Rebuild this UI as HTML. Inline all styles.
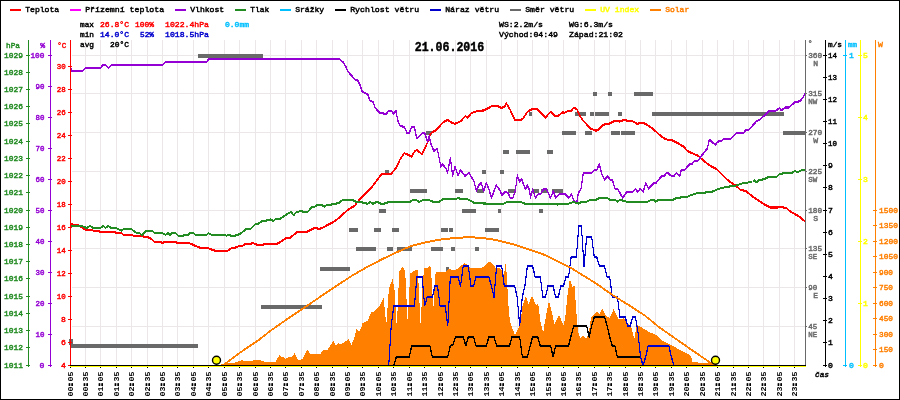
<!DOCTYPE html>
<html><head><meta charset="utf-8"><title>chart</title>
<style>
html,body{margin:0;padding:0;background:#fff;}
body{width:900px;height:400px;overflow:hidden;}
svg{display:block;will-change:transform;}
text{font-family:"Liberation Mono",monospace;font-size:8.1px;stroke-width:0.45px;paint-order:stroke;}
.b{font-weight:bold;}
.t{font-family:"Liberation Mono",monospace;font-weight:bold;font-size:12.6px;}
.c{shape-rendering:crispEdges;}
</style></head><body>
<svg width="900" height="400" viewBox="0 0 900 400">
<rect x="0" y="0" width="900" height="400" fill="#fff"/>
<path class="c" d="M85.5 40V365M100.5 40V365M116.5 40V365M131.5 40V365M147.5 40V365M162.5 40V365M177.5 40V365M193.5 40V365M208.5 40V365M224.5 40V365M239.5 40V365M255.5 40V365M270.5 40V365M285.5 40V365M301.5 40V365M316.5 40V365M332.5 40V365M347.5 40V365M362.5 40V365M378.5 40V365M393.5 40V365M409.5 40V365M424.5 40V365M440.5 40V365M455.5 40V365M470.5 40V365M486.5 40V365M501.5 40V365M517.5 40V365M532.5 40V365M548.5 40V365M563.5 40V365M578.5 40V365M594.5 40V365M609.5 40V365M625.5 40V365M640.5 40V365M655.5 40V365M671.5 40V365M686.5 40V365M702.5 40V365M717.5 40V365M733.5 40V365M748.5 40V365M763.5 40V365M779.5 40V365M794.5 40V365M72 55.5H805M72 93.5H805M72 132.5H805M72 171.5H805M72 210.5H805M72 248.5H805M72 287.5H805M72 326.5H805" stroke="#ebe6e7" stroke-width="1" fill="none"/>
<path class="c" d="M198 54H263V58H198ZM71 344H198V348H71ZM261 305H322V309H261ZM320 267H350V271H320ZM446 267H449V271H446ZM349 228H358V232H349ZM374 228H381V232H374ZM392 228H399V232H392ZM441 228H448V232H441ZM449 228H453V232H449ZM485 228H499V232H485ZM356 247H376V251H356ZM387 247H393V251H387ZM397 247H412V251H397ZM431 247H443V251H431ZM451 247H455V251H451ZM475 247H479V251H475ZM379 209H386V213H379ZM462 209H476V213H462ZM498 209H501V213H498ZM539 209H543V213H539ZM410 189H427V193H410ZM455 189H463V193H455ZM477 189H484V193H477ZM508 189H516V193H508ZM532 189H539V193H532ZM541 189H548V193H541ZM552 189H563V193H552ZM385 170H389V174H385ZM482 170H486V174H482ZM500 170H504V174H500ZM503 150H509V154H503ZM516 150H530V154H516ZM547 150H553V154H547ZM426 131H432V135H426ZM562 131H576V135H562ZM585 131H592V135H585ZM611 131H620V135H611ZM621 131H635V135H621ZM783 131H805V135H783ZM529 112H532V116H529ZM575 112H586V116H575ZM590 112H594V116H590ZM595 112H609V116H595ZM618 112H622V116H618ZM652 112H784V116H652ZM593 92H597V96H593ZM608 92H612V96H608ZM634 92H653V96H634ZM69 339H73V345H69Z" fill="#696969"/>
<path shape-rendering="crispEdges" d="M218.0 365.0L220.9 364.5L228.4 363.3L236.8 362.3L241.0 360.3L243.5 360.6L248.5 361.1L257.7 359.9L261.0 360.3L265.2 362.0L275.3 362.0L279.5 355.3L281.1 356.9L283.6 356.6L285.7 358.9L288.7 356.9L292.0 356.9L294.5 353.2L297.9 359.9L302.1 359.4L307.4 349.4L310.4 354.4L312.4 353.6L320.5 353.6L323.0 350.2L327.2 350.2L333.4 341.0L335.5 345.2L338.6 343.2L340.6 344.4L348.6 339.3L351.4 345.2L354.0 338.5L356.5 329.3L359.0 331.8L360.9 328.5L362.5 323.4L367.6 320.9L370.9 312.6L375.1 310.9L380.1 305.0L383.6 297.7L386.3 325.5L388.9 288.5L392.7 278.4L394.6 291.0L396.8 328.0L399.2 271.7L402.7 266.4L405.2 271.7L407.7 323.0L410.2 273.4L415.3 270.4L417.9 270.4L420.6 324.6L423.0 279.0L424.5 268.4L427.0 268.0L430.3 265.4L431.1 271.7L433.4 308.0L435.7 271.7L446.2 271.7L448.8 269.2L455.5 270.1L464.7 263.0L470.5 267.6L482.2 267.6L489.8 261.4L494.0 265.0L495.0 267.6L500.0 268.4L502.5 271.7L504.0 275.0L505.9 261.4L507.0 280.0L508.4 305.2L510.0 322.0L514.3 333.5L515.1 334.3L520.1 325.1L522.6 305.2L526.0 296.0L528.5 303.6L532.2 296.0L536.0 305.2L538.2 303.6L540.5 322.0L543.2 332.6L544.9 322.0L548.9 301.0L551.9 311.9L554.4 324.3L559.0 315.1L563.6 325.1L565.3 316.7L567.3 296.9L569.8 278.4L572.3 286.8L574.5 286.0L576.2 310.2L577.9 331.8L580.4 338.5L582.9 336.0L586.2 338.5L588.8 332.6L590.4 321.8L591.3 317.6L597.1 311.7L599.6 314.2L602.1 308.4L605.5 315.1L609.7 318.4L613.5 309.2L615.9 313.4L618.9 319.3L623.9 318.4L628.1 323.4L631.6 328.5L634.3 339.5L636.4 326.0L637.7 325.1L643.5 328.5L650.2 332.6L655.2 334.3L662.8 341.0L670.3 344.4L678.7 349.4L687.1 353.6L691.2 356.1L692.4 361.9L700.5 362.8L710.5 363.3L717.2 364.5L718.0 365.0Z" fill="#ff7f00" stroke="none"/>
<g shape-rendering="crispEdges" fill="none" stroke="#ff0000" stroke-width="1.15" stroke-linejoin="round"><path d="M70.0 223.8L73.3 224.8L79.2 225.6L82.6 228.0L85.9 229.8L91.8 229.8L93.4 230.7L98.5 230.7L100.1 231.8L114.4 231.8L116.0 233.0L121.1 233.0L123.6 234.8L131.9 234.8L133.6 236.0L142.8 236.0L144.5 237.2L147.9 237.2L152.0 239.4L154.5 241.9L160.4 241.9L162.1 243.0L165.4 241.9L175.5 241.9L177.1 243.0L188.9 243.0L193.9 245.2L200.6 248.1L208.1 248.1L212.3 249.9L215.7 250.8L227.6 250.8L231.7 248.2L235.9 247.4L240.1 245.7L242.6 245.7L245.1 243.9L250.2 243.9L252.7 243.0L256.9 244.7L262.7 244.7L265.2 243.9L276.9 243.9L282.0 241.0L286.2 238.0L290.3 237.7L297.0 232.2L307.1 231.8L314.6 228.0L316.3 228.0L318.8 229.0L322.1 228.0L332.2 222.6L337.2 219.3L343.9 213.4L347.5 210.0L355.0 205.5L359.0 200.0L363.8 195.0L372.5 186.3L381.3 174.5L385.0 173.8L391.3 173.8L396.7 167.0L400.1 159.4L404.3 153.2L407.6 154.4L411.5 156.9L414.3 151.9L416.8 149.7L421.9 154.4L425.2 147.7L428.6 140.2L430.2 134.3L432.7 131.8L436.1 130.1L442.8 122.6L447.8 119.8L451.2 122.3L454.8 123.9L460.4 121.4L465.4 116.2L467.9 117.6L471.2 113.1L476.3 111.4L483.8 110.4L491.3 106.4L497.2 105.9L501.4 108.0L504.7 106.4L506.4 103.3L509.8 109.2L514.8 119.8L520.6 119.8L522.5 119.3L527.5 111.8L532.6 108.8L536.7 108.8L540.9 112.6L545.4 117.6L550.5 111.8L555.2 116.0L558.2 116.0L562.7 112.1L563.9 112.9L568.6 110.9L571.1 110.9L573.9 107.6L576.9 109.3L579.4 115.1L582.8 120.1L590.3 128.5L596.2 130.7L598.7 129.3L602.9 124.8L609.6 123.5L614.6 121.0L619.6 121.5L625.1 119.8L628.0 121.5L630.5 120.6L633.8 121.8L637.2 124.0L640.5 123.0L644.7 123.5L652.3 128.2L659.0 134.4L664.0 138.2L667.3 139.7L673.0 140.5L683.8 146.7L687.2 150.9L698.1 155.9L700.0 157.5L708.8 165.0L716.3 168.8L727.5 180.0L737.5 187.0L740.0 189.5L746.3 191.3L753.8 197.5L761.3 202.5L770.0 207.5L777.5 207.5L779.5 206.8L786.3 208.0L790.0 211.3L800.0 217.0L805.5 222.0" transform="translate(0 -0.5)"/><path d="M70.0 223.8L73.3 224.8L79.2 225.6L82.6 228.0L85.9 229.8L91.8 229.8L93.4 230.7L98.5 230.7L100.1 231.8L114.4 231.8L116.0 233.0L121.1 233.0L123.6 234.8L131.9 234.8L133.6 236.0L142.8 236.0L144.5 237.2L147.9 237.2L152.0 239.4L154.5 241.9L160.4 241.9L162.1 243.0L165.4 241.9L175.5 241.9L177.1 243.0L188.9 243.0L193.9 245.2L200.6 248.1L208.1 248.1L212.3 249.9L215.7 250.8L227.6 250.8L231.7 248.2L235.9 247.4L240.1 245.7L242.6 245.7L245.1 243.9L250.2 243.9L252.7 243.0L256.9 244.7L262.7 244.7L265.2 243.9L276.9 243.9L282.0 241.0L286.2 238.0L290.3 237.7L297.0 232.2L307.1 231.8L314.6 228.0L316.3 228.0L318.8 229.0L322.1 228.0L332.2 222.6L337.2 219.3L343.9 213.4L347.5 210.0L355.0 205.5L359.0 200.0L363.8 195.0L372.5 186.3L381.3 174.5L385.0 173.8L391.3 173.8L396.7 167.0L400.1 159.4L404.3 153.2L407.6 154.4L411.5 156.9L414.3 151.9L416.8 149.7L421.9 154.4L425.2 147.7L428.6 140.2L430.2 134.3L432.7 131.8L436.1 130.1L442.8 122.6L447.8 119.8L451.2 122.3L454.8 123.9L460.4 121.4L465.4 116.2L467.9 117.6L471.2 113.1L476.3 111.4L483.8 110.4L491.3 106.4L497.2 105.9L501.4 108.0L504.7 106.4L506.4 103.3L509.8 109.2L514.8 119.8L520.6 119.8L522.5 119.3L527.5 111.8L532.6 108.8L536.7 108.8L540.9 112.6L545.4 117.6L550.5 111.8L555.2 116.0L558.2 116.0L562.7 112.1L563.9 112.9L568.6 110.9L571.1 110.9L573.9 107.6L576.9 109.3L579.4 115.1L582.8 120.1L590.3 128.5L596.2 130.7L598.7 129.3L602.9 124.8L609.6 123.5L614.6 121.0L619.6 121.5L625.1 119.8L628.0 121.5L630.5 120.6L633.8 121.8L637.2 124.0L640.5 123.0L644.7 123.5L652.3 128.2L659.0 134.4L664.0 138.2L667.3 139.7L673.0 140.5L683.8 146.7L687.2 150.9L698.1 155.9L700.0 157.5L708.8 165.0L716.3 168.8L727.5 180.0L737.5 187.0L740.0 189.5L746.3 191.3L753.8 197.5L761.3 202.5L770.0 207.5L777.5 207.5L779.5 206.8L786.3 208.0L790.0 211.3L800.0 217.0L805.5 222.0" transform="translate(0 0.5)"/></g>
<g shape-rendering="crispEdges" fill="none" stroke="#9400d3" stroke-width="1.08" stroke-linejoin="round"><path d="M70.3 67.0L72.0 71.0L82.5 71.0L85.5 68.0L100.5 68.0L103.0 65.0L105.5 65.0L108.5 68.0L111.5 65.0L162.5 65.0L165.8 62.0L206.7 62.0L208.7 58.9L339.2 58.9L343.3 62.5L345.8 66.7L347.5 70.8L351.7 75.8L355.0 79.7L357.5 80.0L360.0 85.0L362.2 91.7L365.0 92.8L368.0 95.0L370.0 100.8L373.0 102.0L375.0 107.5L380.0 113.3L386.7 113.7L388.4 110.9L391.4 110.9L393.7 113.7L396.2 110.9L397.6 120.1L400.1 126.0L404.3 126.8L406.8 132.6L409.3 132.6L411.8 126.8L414.3 126.8L416.8 138.5L422.7 133.0L424.9 133.5L427.7 141.9L429.1 136.0L431.1 144.4L433.9 151.1L437.3 148.6L439.2 158.4L440.9 166.8L442.6 164.3L445.9 168.5L447.6 172.6L450.4 157.6L452.6 176.0L455.1 166.8L458.1 175.5L460.5 170.1L465.2 176.0L468.8 172.6L473.9 181.0L476.5 191.1L478.6 185.2L481.1 182.7L483.6 191.1L486.4 182.7L488.9 189.4L491.6 197.8L496.1 185.2L499.5 189.4L502.0 195.2L505.3 191.9L507.9 192.7L510.4 198.3L512.9 197.8L515.4 190.2L517.4 175.5L519.6 181.9L521.7 179.3L525.4 189.4L527.1 185.2L529.6 190.2L530.5 197.8L532.5 189.4L535.5 197.8L538.0 194.4L540.5 194.4L543.8 188.6L546.4 189.4L550.5 197.8L553.4 191.1L555.6 197.8L558.9 194.4L565.6 194.4L569.0 197.8L571.5 194.4L574.3 201.9L576.7 202.8L578.4 192.7L580.9 189.4L583.4 172.6L591.8 172.6L595.1 169.8L596.8 169.8L599.3 164.3L601.8 174.3L604.7 179.8L607.7 176.0L610.2 179.7L612.4 179.7L614.9 188.6L617.7 188.9L622.7 197.8L626.9 191.9L632.8 191.9L635.6 188.9L637.8 191.9L640.3 188.9L643.2 191.9L645.7 183.2L648.7 188.6L653.7 183.2L656.2 182.7L661.7 176.0L663.8 176.0L667.1 172.6L671.8 176.0L673.8 176.0L676.6 173.0L679.7 176.0L681.3 170.1L684.7 169.8L689.7 164.3L691.9 163.9L694.7 160.9L698.1 160.6L702.3 154.7L707.3 148.5L709.3 140.0L710.6 140.6L715.2 144.7L718.0 141.5L721.3 141.3L723.0 139.3L730.0 139.3L736.3 133.0L743.8 133.0L745.5 130.5L748.8 130.0L756.3 121.3L760.0 119.5L768.8 111.3L776.3 110.5L779.5 108.0L781.3 110.5L785.0 107.5L788.8 107.5L795.0 102.0L800.0 101.3L803.8 96.3L805.5 92.5" transform="translate(0 -0.5)"/><path d="M70.3 67.0L72.0 71.0L82.5 71.0L85.5 68.0L100.5 68.0L103.0 65.0L105.5 65.0L108.5 68.0L111.5 65.0L162.5 65.0L165.8 62.0L206.7 62.0L208.7 58.9L339.2 58.9L343.3 62.5L345.8 66.7L347.5 70.8L351.7 75.8L355.0 79.7L357.5 80.0L360.0 85.0L362.2 91.7L365.0 92.8L368.0 95.0L370.0 100.8L373.0 102.0L375.0 107.5L380.0 113.3L386.7 113.7L388.4 110.9L391.4 110.9L393.7 113.7L396.2 110.9L397.6 120.1L400.1 126.0L404.3 126.8L406.8 132.6L409.3 132.6L411.8 126.8L414.3 126.8L416.8 138.5L422.7 133.0L424.9 133.5L427.7 141.9L429.1 136.0L431.1 144.4L433.9 151.1L437.3 148.6L439.2 158.4L440.9 166.8L442.6 164.3L445.9 168.5L447.6 172.6L450.4 157.6L452.6 176.0L455.1 166.8L458.1 175.5L460.5 170.1L465.2 176.0L468.8 172.6L473.9 181.0L476.5 191.1L478.6 185.2L481.1 182.7L483.6 191.1L486.4 182.7L488.9 189.4L491.6 197.8L496.1 185.2L499.5 189.4L502.0 195.2L505.3 191.9L507.9 192.7L510.4 198.3L512.9 197.8L515.4 190.2L517.4 175.5L519.6 181.9L521.7 179.3L525.4 189.4L527.1 185.2L529.6 190.2L530.5 197.8L532.5 189.4L535.5 197.8L538.0 194.4L540.5 194.4L543.8 188.6L546.4 189.4L550.5 197.8L553.4 191.1L555.6 197.8L558.9 194.4L565.6 194.4L569.0 197.8L571.5 194.4L574.3 201.9L576.7 202.8L578.4 192.7L580.9 189.4L583.4 172.6L591.8 172.6L595.1 169.8L596.8 169.8L599.3 164.3L601.8 174.3L604.7 179.8L607.7 176.0L610.2 179.7L612.4 179.7L614.9 188.6L617.7 188.9L622.7 197.8L626.9 191.9L632.8 191.9L635.6 188.9L637.8 191.9L640.3 188.9L643.2 191.9L645.7 183.2L648.7 188.6L653.7 183.2L656.2 182.7L661.7 176.0L663.8 176.0L667.1 172.6L671.8 176.0L673.8 176.0L676.6 173.0L679.7 176.0L681.3 170.1L684.7 169.8L689.7 164.3L691.9 163.9L694.7 160.9L698.1 160.6L702.3 154.7L707.3 148.5L709.3 140.0L710.6 140.6L715.2 144.7L718.0 141.5L721.3 141.3L723.0 139.3L730.0 139.3L736.3 133.0L743.8 133.0L745.5 130.5L748.8 130.0L756.3 121.3L760.0 119.5L768.8 111.3L776.3 110.5L779.5 108.0L781.3 110.5L785.0 107.5L788.8 107.5L795.0 102.0L800.0 101.3L803.8 96.3L805.5 92.5" transform="translate(0 0.5)"/></g>
<g shape-rendering="crispEdges" fill="none" stroke="#228b22" stroke-width="1.08" stroke-linejoin="round"><path d="M70.0 226.0L81.7 226.0L86.7 228.0L90.1 226.0L93.4 228.0L99.3 228.5L103.5 226.0L105.5 228.0L108.2 226.0L111.0 228.0L116.0 228.0L121.1 230.7L123.6 229.0L131.1 229.0L137.0 233.2L139.5 233.2L141.7 235.2L146.2 231.0L152.0 230.7L154.5 232.8L162.1 232.8L165.4 234.8L167.9 233.2L170.1 234.8L172.5 232.8L175.5 232.8L178.0 235.7L183.0 235.7L185.5 234.8L188.0 234.8L190.5 232.8L193.1 232.8L195.6 234.8L206.4 234.8L208.6 233.2L211.5 234.8L224.2 234.8L226.7 235.7L228.7 234.8L231.7 236.0L235.1 235.7L240.1 234.0L246.0 229.3L251.0 228.5L255.2 224.3L258.5 223.5L262.7 220.9L267.7 220.4L270.2 219.3L273.3 220.9L276.1 218.8L280.3 218.8L287.0 214.3L291.2 211.7L293.7 215.4L296.2 212.1L298.7 211.7L300.7 210.9L302.9 211.7L307.9 211.7L312.1 206.7L314.6 206.7L317.1 205.0L321.3 205.0L324.7 206.7L327.2 204.7L332.2 204.5L334.7 203.7L338.1 203.4L342.2 200.4L352.3 200.0L356.5 202.0L362.5 202.5L367.5 203.8L370.5 202.0L373.0 203.8L377.0 201.8L381.3 203.8L386.3 203.3L388.8 201.8L410.0 201.8L412.5 200.0L416.3 200.0L419.5 202.0L422.5 200.0L428.8 200.0L433.8 202.0L439.2 201.6L442.6 199.4L455.1 199.4L458.5 197.8L461.0 199.4L467.7 199.4L475.2 203.3L488.6 203.6L492.0 204.5L503.7 203.6L506.2 202.3L520.4 202.0L524.6 203.6L547.2 204.0L553.0 203.6L557.2 204.5L564.0 203.6L569.0 203.6L573.1 202.0L575.9 202.8L578.4 203.6L582.6 201.6L586.7 201.6L590.1 199.8L596.0 199.8L600.1 197.8L606.8 197.8L610.2 199.8L615.2 199.8L617.7 201.6L620.2 199.8L626.1 201.6L647.9 201.6L651.2 199.8L653.4 199.8L655.7 201.6L658.7 199.8L673.0 199.8L677.2 197.8L687.2 196.9L691.4 194.9L697.2 193.2L711.3 192.0L718.8 188.8L726.3 187.0L735.0 185.8L743.8 183.0L752.5 182.0L754.5 180.5L756.3 182.5L758.8 180.0L763.8 179.3L767.5 177.5L776.3 177.0L780.0 173.8L792.5 172.5L795.0 170.8L797.0 172.5L801.3 170.5L805.5 169.5" transform="translate(0 -0.5)"/><path d="M70.0 226.0L81.7 226.0L86.7 228.0L90.1 226.0L93.4 228.0L99.3 228.5L103.5 226.0L105.5 228.0L108.2 226.0L111.0 228.0L116.0 228.0L121.1 230.7L123.6 229.0L131.1 229.0L137.0 233.2L139.5 233.2L141.7 235.2L146.2 231.0L152.0 230.7L154.5 232.8L162.1 232.8L165.4 234.8L167.9 233.2L170.1 234.8L172.5 232.8L175.5 232.8L178.0 235.7L183.0 235.7L185.5 234.8L188.0 234.8L190.5 232.8L193.1 232.8L195.6 234.8L206.4 234.8L208.6 233.2L211.5 234.8L224.2 234.8L226.7 235.7L228.7 234.8L231.7 236.0L235.1 235.7L240.1 234.0L246.0 229.3L251.0 228.5L255.2 224.3L258.5 223.5L262.7 220.9L267.7 220.4L270.2 219.3L273.3 220.9L276.1 218.8L280.3 218.8L287.0 214.3L291.2 211.7L293.7 215.4L296.2 212.1L298.7 211.7L300.7 210.9L302.9 211.7L307.9 211.7L312.1 206.7L314.6 206.7L317.1 205.0L321.3 205.0L324.7 206.7L327.2 204.7L332.2 204.5L334.7 203.7L338.1 203.4L342.2 200.4L352.3 200.0L356.5 202.0L362.5 202.5L367.5 203.8L370.5 202.0L373.0 203.8L377.0 201.8L381.3 203.8L386.3 203.3L388.8 201.8L410.0 201.8L412.5 200.0L416.3 200.0L419.5 202.0L422.5 200.0L428.8 200.0L433.8 202.0L439.2 201.6L442.6 199.4L455.1 199.4L458.5 197.8L461.0 199.4L467.7 199.4L475.2 203.3L488.6 203.6L492.0 204.5L503.7 203.6L506.2 202.3L520.4 202.0L524.6 203.6L547.2 204.0L553.0 203.6L557.2 204.5L564.0 203.6L569.0 203.6L573.1 202.0L575.9 202.8L578.4 203.6L582.6 201.6L586.7 201.6L590.1 199.8L596.0 199.8L600.1 197.8L606.8 197.8L610.2 199.8L615.2 199.8L617.7 201.6L620.2 199.8L626.1 201.6L647.9 201.6L651.2 199.8L653.4 199.8L655.7 201.6L658.7 199.8L673.0 199.8L677.2 197.8L687.2 196.9L691.4 194.9L697.2 193.2L711.3 192.0L718.8 188.8L726.3 187.0L735.0 185.8L743.8 183.0L752.5 182.0L754.5 180.5L756.3 182.5L758.8 180.0L763.8 179.3L767.5 177.5L776.3 177.0L780.0 173.8L792.5 172.5L795.0 170.8L797.0 172.5L801.3 170.5L805.5 169.5" transform="translate(0 0.5)"/></g>
<g shape-rendering="crispEdges" fill="none" stroke="#000" stroke-width="1.05" stroke-linejoin="bevel"><path d="M393.8 365.7L396.4 356.8L399.0 356.8L401.5 356.8L404.1 356.8L406.7 356.8L409.2 356.8L411.8 345.8L414.4 345.8L416.9 345.8L419.5 345.8L422.1 345.8L424.7 345.8L427.2 345.8L429.8 345.8L432.4 356.8L434.9 356.8L437.5 356.8L440.1 356.8L442.6 356.8L445.2 356.8L447.8 356.8L450.3 345.8L452.9 344.7L455.5 336.9L458.1 336.9L460.6 336.9L463.2 336.9L465.8 345.8L468.3 336.9L470.9 336.9L473.5 336.9L476.0 345.8L478.6 345.8L481.2 345.8L483.8 345.8L486.3 345.8L488.9 336.9L491.5 336.9L494.0 336.9L496.6 345.8L499.2 345.8L501.7 345.8L504.3 345.8L506.9 345.8L509.5 345.8L512.0 336.9L514.6 336.9L517.2 336.9L519.7 336.9L522.3 356.8L524.9 356.8L527.4 356.8L530.0 346.9L532.6 336.9L535.2 336.9L537.7 336.9L540.3 345.8L542.9 345.8L545.4 345.8L548.0 345.8L550.6 345.8L553.1 356.8L555.7 345.8L558.3 345.8L560.9 345.8L563.4 345.8L566.0 345.8L568.6 345.8L571.1 335.8L573.7 325.8L576.3 325.8L578.8 325.8L581.4 325.8L584.0 325.8L586.6 325.8L589.1 336.9L591.7 325.8L594.3 317.0L596.8 317.0L599.4 317.0L602.0 317.0L604.5 317.0L607.1 325.8L609.7 336.9L612.3 345.8L614.8 345.8L617.4 356.8L620.0 356.8L622.5 356.8L625.1 356.8L627.7 356.8L630.2 356.8L632.8 356.8L635.4 356.8L638.0 356.8L640.5 356.8L643.1 365.7" transform="translate(0 -0.5)"/><path d="M393.8 365.7L396.4 356.8L399.0 356.8L401.5 356.8L404.1 356.8L406.7 356.8L409.2 356.8L411.8 345.8L414.4 345.8L416.9 345.8L419.5 345.8L422.1 345.8L424.7 345.8L427.2 345.8L429.8 345.8L432.4 356.8L434.9 356.8L437.5 356.8L440.1 356.8L442.6 356.8L445.2 356.8L447.8 356.8L450.3 345.8L452.9 344.7L455.5 336.9L458.1 336.9L460.6 336.9L463.2 336.9L465.8 345.8L468.3 336.9L470.9 336.9L473.5 336.9L476.0 345.8L478.6 345.8L481.2 345.8L483.8 345.8L486.3 345.8L488.9 336.9L491.5 336.9L494.0 336.9L496.6 345.8L499.2 345.8L501.7 345.8L504.3 345.8L506.9 345.8L509.5 345.8L512.0 336.9L514.6 336.9L517.2 336.9L519.7 336.9L522.3 356.8L524.9 356.8L527.4 356.8L530.0 346.9L532.6 336.9L535.2 336.9L537.7 336.9L540.3 345.8L542.9 345.8L545.4 345.8L548.0 345.8L550.6 345.8L553.1 356.8L555.7 345.8L558.3 345.8L560.9 345.8L563.4 345.8L566.0 345.8L568.6 345.8L571.1 335.8L573.7 325.8L576.3 325.8L578.8 325.8L581.4 325.8L584.0 325.8L586.6 325.8L589.1 336.9L591.7 325.8L594.3 317.0L596.8 317.0L599.4 317.0L602.0 317.0L604.5 317.0L607.1 325.8L609.7 336.9L612.3 345.8L614.8 345.8L617.4 356.8L620.0 356.8L622.5 356.8L625.1 356.8L627.7 356.8L630.2 356.8L632.8 356.8L635.4 356.8L638.0 356.8L640.5 356.8L643.1 365.7" transform="translate(0 0.5)"/></g>
<g shape-rendering="crispEdges" fill="none" stroke="#0000cd" stroke-width="1.05" stroke-linejoin="bevel"><path d="M388.7 365.7L391.2 325.8L393.8 305.9L396.4 305.9L399.0 305.9L401.5 305.9L404.1 305.9L406.7 305.9L409.2 305.9L411.8 305.9L414.4 305.9L416.9 277.1L419.5 277.1L422.1 277.1L424.7 305.9L427.2 297.1L429.8 297.1L432.4 297.1L434.9 286.0L437.5 286.0L440.1 305.9L442.6 305.9L445.2 305.9L447.8 325.8L450.3 277.1L452.9 277.1L455.5 277.1L458.1 277.1L460.6 286.0L463.2 266.1L465.8 266.1L468.3 266.1L470.9 286.0L473.5 286.0L476.0 277.1L478.6 277.1L481.2 277.1L483.8 277.1L486.3 277.1L488.9 277.1L491.5 286.0L494.0 297.1L496.6 266.1L499.2 266.1L501.7 266.1L504.3 286.0L506.9 286.0L509.5 286.0L512.0 286.0L514.6 286.0L517.2 297.1L519.7 325.8L522.3 297.1L524.9 286.0L527.4 266.1L530.0 266.1L532.6 266.1L535.2 277.1L537.7 277.1L540.3 277.1L542.9 297.1L545.4 297.1L548.0 286.0L550.6 286.0L553.1 286.0L555.7 297.1L558.3 297.1L560.9 286.0L563.4 286.0L566.0 277.1L568.6 277.1L571.1 257.2L573.7 257.2L576.3 257.2L578.8 226.2L581.4 226.2L584.0 266.1L586.6 237.3L589.1 237.3L591.7 237.3L594.3 257.2L596.8 257.2L599.4 266.1L602.0 266.1L604.5 266.1L607.1 277.1L609.7 277.1L612.3 297.1L614.8 297.1L617.4 297.1L620.0 317.0L622.5 317.0L625.1 317.0L627.7 325.8L630.2 325.8L632.8 317.0L635.4 317.0L638.0 332.5L640.5 356.8L643.1 365.7L645.7 356.8L648.2 345.8L650.8 345.8L653.4 345.8L655.9 345.8L658.5 345.8L661.1 345.8L663.7 345.8L666.2 345.8L668.8 345.8L671.4 356.8L673.9 365.7L676.5 365.7" transform="translate(0 -0.5)"/><path d="M388.7 365.7L391.2 325.8L393.8 305.9L396.4 305.9L399.0 305.9L401.5 305.9L404.1 305.9L406.7 305.9L409.2 305.9L411.8 305.9L414.4 305.9L416.9 277.1L419.5 277.1L422.1 277.1L424.7 305.9L427.2 297.1L429.8 297.1L432.4 297.1L434.9 286.0L437.5 286.0L440.1 305.9L442.6 305.9L445.2 305.9L447.8 325.8L450.3 277.1L452.9 277.1L455.5 277.1L458.1 277.1L460.6 286.0L463.2 266.1L465.8 266.1L468.3 266.1L470.9 286.0L473.5 286.0L476.0 277.1L478.6 277.1L481.2 277.1L483.8 277.1L486.3 277.1L488.9 277.1L491.5 286.0L494.0 297.1L496.6 266.1L499.2 266.1L501.7 266.1L504.3 286.0L506.9 286.0L509.5 286.0L512.0 286.0L514.6 286.0L517.2 297.1L519.7 325.8L522.3 297.1L524.9 286.0L527.4 266.1L530.0 266.1L532.6 266.1L535.2 277.1L537.7 277.1L540.3 277.1L542.9 297.1L545.4 297.1L548.0 286.0L550.6 286.0L553.1 286.0L555.7 297.1L558.3 297.1L560.9 286.0L563.4 286.0L566.0 277.1L568.6 277.1L571.1 257.2L573.7 257.2L576.3 257.2L578.8 226.2L581.4 226.2L584.0 266.1L586.6 237.3L589.1 237.3L591.7 237.3L594.3 257.2L596.8 257.2L599.4 266.1L602.0 266.1L604.5 266.1L607.1 277.1L609.7 277.1L612.3 297.1L614.8 297.1L617.4 297.1L620.0 317.0L622.5 317.0L625.1 317.0L627.7 325.8L630.2 325.8L632.8 317.0L635.4 317.0L638.0 332.5L640.5 356.8L643.1 365.7L645.7 356.8L648.2 345.8L650.8 345.8L653.4 345.8L655.9 345.8L658.5 345.8L661.1 345.8L663.7 345.8L666.2 345.8L668.8 345.8L671.4 356.8L673.9 365.7L676.5 365.7" transform="translate(0 0.5)"/></g>
<g shape-rendering="crispEdges" fill="none" stroke="#ff7f00" stroke-width="1.0" stroke-linejoin="round"><path d="M224.0 365.0L225.0 364.0L239.0 353.3L258.5 340.2L270.2 331.0L285.3 320.4L302.1 309.2L315.5 300.0L334.0 287.5L353.1 275.0L366.3 267.5L381.3 259.6L396.3 252.5L411.3 245.9L426.3 242.2L441.3 239.4L456.3 237.9L468.0 237.2L481.3 237.8L496.3 240.0L515.0 244.7L530.0 249.8L545.0 255.0L570.3 267.6L595.5 283.1L612.2 294.8L628.9 305.2L645.0 315.6L658.6 326.8L675.3 338.5L692.1 350.2L705.5 359.4L711.3 363.3L713.0 365.0" transform="translate(0 -0.5)"/><path d="M224.0 365.0L225.0 364.0L239.0 353.3L258.5 340.2L270.2 331.0L285.3 320.4L302.1 309.2L315.5 300.0L334.0 287.5L353.1 275.0L366.3 267.5L381.3 259.6L396.3 252.5L411.3 245.9L426.3 242.2L441.3 239.4L456.3 237.9L468.0 237.2L481.3 237.8L496.3 240.0L515.0 244.7L530.0 249.8L545.0 255.0L570.3 267.6L595.5 283.1L612.2 294.8L628.9 305.2L645.0 315.6L658.6 326.8L675.3 338.5L692.1 350.2L705.5 359.4L711.3 363.3L713.0 365.0" transform="translate(0 0.5)"/></g>
<circle cx="216.5" cy="360.2" r="4" fill="#ffff00" stroke="#000" stroke-width="1.4"/>
<circle cx="715.5" cy="360.2" r="4" fill="#ffff00" stroke="#000" stroke-width="1.4"/>
<path class="c" d="M28.5 40V367M26 365.5H30M26 347.5H30M26 330.5H30M26 313.5H30M26 296.5H30M26 278.5H30M26 261.5H30M26 244.5H30M26 227.5H30M26 210.5H30M26 192.5H30M26 175.5H30M26 158.5H30M26 141.5H30M26 123.5H30M26 106.5H30M26 89.5H30M26 72.5H30M26 55.5H30" stroke="#228b22" stroke-width="1" fill="none"/>
<text x="22.9" y="368.1" fill="#228b22" stroke="#228b22" text-anchor="end" textLength="19" lengthAdjust="spacingAndGlyphs">1011</text>
<text x="22.9" y="350.1" fill="#228b22" stroke="#228b22" text-anchor="end" textLength="19" lengthAdjust="spacingAndGlyphs">1012</text>
<text x="22.9" y="333.1" fill="#228b22" stroke="#228b22" text-anchor="end" textLength="19" lengthAdjust="spacingAndGlyphs">1013</text>
<text x="22.9" y="316.1" fill="#228b22" stroke="#228b22" text-anchor="end" textLength="19" lengthAdjust="spacingAndGlyphs">1014</text>
<text x="22.9" y="299.1" fill="#228b22" stroke="#228b22" text-anchor="end" textLength="19" lengthAdjust="spacingAndGlyphs">1015</text>
<text x="22.9" y="281.1" fill="#228b22" stroke="#228b22" text-anchor="end" textLength="19" lengthAdjust="spacingAndGlyphs">1016</text>
<text x="22.9" y="264.1" fill="#228b22" stroke="#228b22" text-anchor="end" textLength="19" lengthAdjust="spacingAndGlyphs">1017</text>
<text x="22.9" y="247.1" fill="#228b22" stroke="#228b22" text-anchor="end" textLength="19" lengthAdjust="spacingAndGlyphs">1018</text>
<text x="22.9" y="230.1" fill="#228b22" stroke="#228b22" text-anchor="end" textLength="19" lengthAdjust="spacingAndGlyphs">1019</text>
<text x="22.9" y="213.1" fill="#228b22" stroke="#228b22" text-anchor="end" textLength="19" lengthAdjust="spacingAndGlyphs">1020</text>
<text x="22.9" y="195.1" fill="#228b22" stroke="#228b22" text-anchor="end" textLength="19" lengthAdjust="spacingAndGlyphs">1021</text>
<text x="22.9" y="178.1" fill="#228b22" stroke="#228b22" text-anchor="end" textLength="19" lengthAdjust="spacingAndGlyphs">1022</text>
<text x="22.9" y="161.1" fill="#228b22" stroke="#228b22" text-anchor="end" textLength="19" lengthAdjust="spacingAndGlyphs">1023</text>
<text x="22.9" y="144.1" fill="#228b22" stroke="#228b22" text-anchor="end" textLength="19" lengthAdjust="spacingAndGlyphs">1024</text>
<text x="22.9" y="126.1" fill="#228b22" stroke="#228b22" text-anchor="end" textLength="19" lengthAdjust="spacingAndGlyphs">1025</text>
<text x="22.9" y="109.1" fill="#228b22" stroke="#228b22" text-anchor="end" textLength="19" lengthAdjust="spacingAndGlyphs">1026</text>
<text x="22.9" y="92.1" fill="#228b22" stroke="#228b22" text-anchor="end" textLength="19" lengthAdjust="spacingAndGlyphs">1027</text>
<text x="22.9" y="75.1" fill="#228b22" stroke="#228b22" text-anchor="end" textLength="19" lengthAdjust="spacingAndGlyphs">1028</text>
<text x="22.9" y="58.1" fill="#228b22" stroke="#228b22" text-anchor="end" textLength="19" lengthAdjust="spacingAndGlyphs">1029</text>
<text x="20" y="47.5" fill="#228b22" stroke="#228b22" text-anchor="end" textLength="14" lengthAdjust="spacingAndGlyphs">hPa</text>
<path class="c" d="M50.5 40V367M48 365.5H52M48 334.5H52M48 303.5H52M48 272.5H52M48 241.5H52M48 210.5H52M48 179.5H52M48 148.5H52M48 117.5H52M48 86.5H52M48 55.5H52" stroke="#9400d3" stroke-width="1" fill="none"/>
<text x="44.4" y="368.1" fill="#9400d3" stroke="#9400d3" text-anchor="end">0</text>
<text x="44.4" y="337.1" fill="#9400d3" stroke="#9400d3" text-anchor="end" textLength="9" lengthAdjust="spacingAndGlyphs">10</text>
<text x="44.4" y="306.1" fill="#9400d3" stroke="#9400d3" text-anchor="end" textLength="9" lengthAdjust="spacingAndGlyphs">20</text>
<text x="44.4" y="275.1" fill="#9400d3" stroke="#9400d3" text-anchor="end" textLength="9" lengthAdjust="spacingAndGlyphs">30</text>
<text x="44.4" y="244.1" fill="#9400d3" stroke="#9400d3" text-anchor="end" textLength="9" lengthAdjust="spacingAndGlyphs">40</text>
<text x="44.4" y="213.1" fill="#9400d3" stroke="#9400d3" text-anchor="end" textLength="9" lengthAdjust="spacingAndGlyphs">50</text>
<text x="44.4" y="182.1" fill="#9400d3" stroke="#9400d3" text-anchor="end" textLength="9" lengthAdjust="spacingAndGlyphs">60</text>
<text x="44.4" y="151.1" fill="#9400d3" stroke="#9400d3" text-anchor="end" textLength="9" lengthAdjust="spacingAndGlyphs">70</text>
<text x="44.4" y="120.1" fill="#9400d3" stroke="#9400d3" text-anchor="end" textLength="9" lengthAdjust="spacingAndGlyphs">80</text>
<text x="44.4" y="89.1" fill="#9400d3" stroke="#9400d3" text-anchor="end" textLength="9" lengthAdjust="spacingAndGlyphs">90</text>
<text x="44.4" y="58.1" fill="#9400d3" stroke="#9400d3" text-anchor="end" textLength="14" lengthAdjust="spacingAndGlyphs">100</text>
<text x="45" y="47.5" fill="#9400d3" stroke="#9400d3" text-anchor="end">%</text>
<path class="c" d="M70.5 40V367M68 365.5H72M68 342.5H72M68 319.5H72M68 296.5H72M68 273.5H72M68 250.5H72M68 227.5H72M68 204.5H72M68 181.5H72M68 158.5H72M68 135.5H72M68 112.5H72M68 89.5H72M68 66.5H72" stroke="#ff0000" stroke-width="1" fill="none"/>
<text x="65.8" y="368.1" fill="#ff0000" stroke="#ff0000" text-anchor="end">4</text>
<text x="65.8" y="345.1" fill="#ff0000" stroke="#ff0000" text-anchor="end">6</text>
<text x="65.8" y="322.1" fill="#ff0000" stroke="#ff0000" text-anchor="end">8</text>
<text x="65.8" y="299.1" fill="#ff0000" stroke="#ff0000" text-anchor="end" textLength="9" lengthAdjust="spacingAndGlyphs">10</text>
<text x="65.8" y="276.1" fill="#ff0000" stroke="#ff0000" text-anchor="end" textLength="9" lengthAdjust="spacingAndGlyphs">12</text>
<text x="65.8" y="253.1" fill="#ff0000" stroke="#ff0000" text-anchor="end" textLength="9" lengthAdjust="spacingAndGlyphs">14</text>
<text x="65.8" y="230.1" fill="#ff0000" stroke="#ff0000" text-anchor="end" textLength="9" lengthAdjust="spacingAndGlyphs">16</text>
<text x="65.8" y="207.1" fill="#ff0000" stroke="#ff0000" text-anchor="end" textLength="9" lengthAdjust="spacingAndGlyphs">18</text>
<text x="65.8" y="184.1" fill="#ff0000" stroke="#ff0000" text-anchor="end" textLength="9" lengthAdjust="spacingAndGlyphs">20</text>
<text x="65.8" y="161.1" fill="#ff0000" stroke="#ff0000" text-anchor="end" textLength="9" lengthAdjust="spacingAndGlyphs">22</text>
<text x="65.8" y="138.1" fill="#ff0000" stroke="#ff0000" text-anchor="end" textLength="9" lengthAdjust="spacingAndGlyphs">24</text>
<text x="65.8" y="115.1" fill="#ff0000" stroke="#ff0000" text-anchor="end" textLength="9" lengthAdjust="spacingAndGlyphs">26</text>
<text x="65.8" y="92.1" fill="#ff0000" stroke="#ff0000" text-anchor="end" textLength="9" lengthAdjust="spacingAndGlyphs">28</text>
<text x="65.8" y="69.1" fill="#ff0000" stroke="#ff0000" text-anchor="end" textLength="9" lengthAdjust="spacingAndGlyphs">30</text>
<text x="66.2" y="47.5" fill="#ff0000" stroke="#ff0000" text-anchor="end" textLength="9" lengthAdjust="spacingAndGlyphs">°C</text>
<text x="808.2" y="58.1" fill="#696969" stroke="#696969" text-anchor="start" textLength="14" lengthAdjust="spacingAndGlyphs">360</text>
<text x="813.2" y="66" fill="#696969" stroke="#696969" text-anchor="start">N</text>
<text x="808.2" y="96.1" fill="#696969" stroke="#696969" text-anchor="start" textLength="14" lengthAdjust="spacingAndGlyphs">315</text>
<text x="808.2" y="104" fill="#696969" stroke="#696969" text-anchor="start" textLength="9" lengthAdjust="spacingAndGlyphs">NW</text>
<text x="808.2" y="135.1" fill="#696969" stroke="#696969" text-anchor="start" textLength="14" lengthAdjust="spacingAndGlyphs">270</text>
<text x="813.2" y="143" fill="#696969" stroke="#696969" text-anchor="start">W</text>
<text x="808.2" y="174.1" fill="#696969" stroke="#696969" text-anchor="start" textLength="14" lengthAdjust="spacingAndGlyphs">225</text>
<text x="808.2" y="182" fill="#696969" stroke="#696969" text-anchor="start" textLength="9" lengthAdjust="spacingAndGlyphs">SW</text>
<text x="808.2" y="213.1" fill="#696969" stroke="#696969" text-anchor="start" textLength="14" lengthAdjust="spacingAndGlyphs">180</text>
<text x="813.2" y="221" fill="#696969" stroke="#696969" text-anchor="start">S</text>
<text x="808.2" y="251.1" fill="#696969" stroke="#696969" text-anchor="start" textLength="14" lengthAdjust="spacingAndGlyphs">135</text>
<text x="808.2" y="259" fill="#696969" stroke="#696969" text-anchor="start" textLength="9" lengthAdjust="spacingAndGlyphs">SE</text>
<text x="808.2" y="290.1" fill="#696969" stroke="#696969" text-anchor="start" textLength="9" lengthAdjust="spacingAndGlyphs">90</text>
<text x="813.2" y="298" fill="#696969" stroke="#696969" text-anchor="start">E</text>
<text x="808.2" y="329.1" fill="#696969" stroke="#696969" text-anchor="start" textLength="9" lengthAdjust="spacingAndGlyphs">45</text>
<text x="808.2" y="337" fill="#696969" stroke="#696969" text-anchor="start" textLength="9" lengthAdjust="spacingAndGlyphs">NE</text>
<path class="c" d="M805.5 40V366M805 55.5H807M805 93.5H807M805 132.5H807M805 171.5H807M805 210.5H807M805 248.5H807M805 287.5H807M805 326.5H807" stroke="#696969" stroke-width="1" fill="none"/>
<text x="807.8" y="46" fill="#696969" stroke="#696969" text-anchor="start">°</text>
<path class="c" d="M825.5 40V367M823 365.5H827M823 342.5H827M823 320.5H827M823 298.5H827M823 276.5H827M823 254.5H827M823 232.5H827M823 210.5H827M823 187.5H827M823 165.5H827M823 143.5H827M823 121.5H827M823 99.5H827M823 77.5H827M823 55.5H827" stroke="#000" stroke-width="1" fill="none"/>
<text x="828" y="368.1" fill="#000" stroke="#000" text-anchor="start">0</text>
<text x="828" y="345.1" fill="#000" stroke="#000" text-anchor="start">1</text>
<text x="828" y="323.1" fill="#000" stroke="#000" text-anchor="start">2</text>
<text x="828" y="301.1" fill="#000" stroke="#000" text-anchor="start">3</text>
<text x="828" y="279.1" fill="#000" stroke="#000" text-anchor="start">4</text>
<text x="828" y="257.1" fill="#000" stroke="#000" text-anchor="start">5</text>
<text x="828" y="235.1" fill="#000" stroke="#000" text-anchor="start">6</text>
<text x="828" y="213.1" fill="#000" stroke="#000" text-anchor="start">7</text>
<text x="828" y="190.1" fill="#000" stroke="#000" text-anchor="start">8</text>
<text x="828" y="168.1" fill="#000" stroke="#000" text-anchor="start">9</text>
<text x="828" y="146.1" fill="#000" stroke="#000" text-anchor="start" textLength="9" lengthAdjust="spacingAndGlyphs">10</text>
<text x="828" y="124.1" fill="#000" stroke="#000" text-anchor="start" textLength="9" lengthAdjust="spacingAndGlyphs">11</text>
<text x="828" y="102.1" fill="#000" stroke="#000" text-anchor="start" textLength="9" lengthAdjust="spacingAndGlyphs">12</text>
<text x="828" y="80.1" fill="#000" stroke="#000" text-anchor="start" textLength="9" lengthAdjust="spacingAndGlyphs">13</text>
<text x="828" y="58.1" fill="#000" stroke="#000" text-anchor="start" textLength="9" lengthAdjust="spacingAndGlyphs">14</text>
<text x="828" y="47.3" fill="#000" stroke="#000" text-anchor="start" textLength="14" lengthAdjust="spacingAndGlyphs">m/s</text>
<path class="c" d="M845.5 40V367M843 365.5H847M843 55.5H847" stroke="#00bfff" stroke-width="1" fill="none"/>
<text x="849" y="368.1" fill="#00bfff" stroke="#00bfff" text-anchor="start">0</text>
<text x="849" y="58.1" fill="#00bfff" stroke="#00bfff" text-anchor="start">1</text>
<text x="848" y="47.3" fill="#00bfff" stroke="#00bfff" text-anchor="start" textLength="9" lengthAdjust="spacingAndGlyphs">mm</text>
<path class="c" d="M860.5 40V367M858 365.5H862M858 303.5H862M858 241.5H862M858 179.5H862M858 117.5H862M858 55.5H862" stroke="#ffff00" stroke-width="1" fill="none"/>
<text x="863" y="368.1" fill="#ffff00" stroke="#ffff00" text-anchor="start">0</text>
<text x="863" y="306.1" fill="#ffff00" stroke="#ffff00" text-anchor="start">1</text>
<text x="863" y="244.1" fill="#ffff00" stroke="#ffff00" text-anchor="start">2</text>
<text x="863" y="182.1" fill="#ffff00" stroke="#ffff00" text-anchor="start">3</text>
<text x="863" y="120.1" fill="#ffff00" stroke="#ffff00" text-anchor="start">4</text>
<text x="863" y="58.1" fill="#ffff00" stroke="#ffff00" text-anchor="start">5</text>
<path class="c" d="M875.5 40V367M873 365.5H877M873 349.5H877M873 334.5H877M873 318.5H877M873 303.5H877M873 287.5H877M873 272.5H877M873 256.5H877M873 241.5H877M873 225.5H877M873 210.5H877" stroke="#ff7f00" stroke-width="1" fill="none"/>
<text x="879" y="368.1" fill="#ff7f00" stroke="#ff7f00" text-anchor="start">0</text>
<text x="879" y="352.1" fill="#ff7f00" stroke="#ff7f00" text-anchor="start" textLength="14" lengthAdjust="spacingAndGlyphs">150</text>
<text x="879" y="337.1" fill="#ff7f00" stroke="#ff7f00" text-anchor="start" textLength="14" lengthAdjust="spacingAndGlyphs">300</text>
<text x="879" y="321.1" fill="#ff7f00" stroke="#ff7f00" text-anchor="start" textLength="14" lengthAdjust="spacingAndGlyphs">450</text>
<text x="879" y="306.1" fill="#ff7f00" stroke="#ff7f00" text-anchor="start" textLength="14" lengthAdjust="spacingAndGlyphs">600</text>
<text x="879" y="290.1" fill="#ff7f00" stroke="#ff7f00" text-anchor="start" textLength="14" lengthAdjust="spacingAndGlyphs">750</text>
<text x="879" y="275.1" fill="#ff7f00" stroke="#ff7f00" text-anchor="start" textLength="14" lengthAdjust="spacingAndGlyphs">900</text>
<text x="879" y="259.1" fill="#ff7f00" stroke="#ff7f00" text-anchor="start" textLength="19" lengthAdjust="spacingAndGlyphs">1050</text>
<text x="879" y="244.1" fill="#ff7f00" stroke="#ff7f00" text-anchor="start" textLength="19" lengthAdjust="spacingAndGlyphs">1200</text>
<text x="879" y="228.1" fill="#ff7f00" stroke="#ff7f00" text-anchor="start" textLength="19" lengthAdjust="spacingAndGlyphs">1350</text>
<text x="879" y="213.1" fill="#ff7f00" stroke="#ff7f00" text-anchor="start" textLength="19" lengthAdjust="spacingAndGlyphs">1500</text>
<text x="878" y="47.3" fill="#ff7f00" stroke="#ff7f00" text-anchor="start">W</text>
<path class="c" d="M70 365.5H806M70.5 365V368M85.5 365V368M100.5 365V368M116.5 365V368M131.5 365V368M147.5 365V368M162.5 365V368M177.5 365V368M193.5 365V368M208.5 365V368M224.5 365V368M239.5 365V368M255.5 365V368M270.5 365V368M285.5 365V368M301.5 365V368M316.5 365V368M332.5 365V368M347.5 365V368M362.5 365V368M378.5 365V368M393.5 365V368M409.5 365V368M424.5 365V368M440.5 365V368M455.5 365V368M470.5 365V368M486.5 365V368M501.5 365V368M517.5 365V368M532.5 365V368M548.5 365V368M563.5 365V368M578.5 365V368M594.5 365V368M609.5 365V368M625.5 365V368M640.5 365V368M655.5 365V368M671.5 365V368M686.5 365V368M702.5 365V368M717.5 365V368M733.5 365V368M748.5 365V368M763.5 365V368M779.5 365V368M794.5 365V368" stroke="#000" stroke-width="1" fill="none"/>
<path class="c" d="M70 366.5H806" stroke="#ffff00" stroke-width="1" fill="none"/>
<text class="b" transform="translate(73.3 396.5) rotate(-90)" textLength="25" lengthAdjust="spacingAndGlyphs" fill="#000">00:05</text>
<text class="b" transform="translate(88.3 396.5) rotate(-90)" textLength="25" lengthAdjust="spacingAndGlyphs" fill="#000">00:35</text>
<text class="b" transform="translate(103.3 396.5) rotate(-90)" textLength="25" lengthAdjust="spacingAndGlyphs" fill="#000">01:05</text>
<text class="b" transform="translate(119.3 396.5) rotate(-90)" textLength="25" lengthAdjust="spacingAndGlyphs" fill="#000">01:35</text>
<text class="b" transform="translate(134.3 396.5) rotate(-90)" textLength="25" lengthAdjust="spacingAndGlyphs" fill="#000">02:05</text>
<text class="b" transform="translate(150.3 396.5) rotate(-90)" textLength="25" lengthAdjust="spacingAndGlyphs" fill="#000">02:35</text>
<text class="b" transform="translate(165.3 396.5) rotate(-90)" textLength="25" lengthAdjust="spacingAndGlyphs" fill="#000">03:05</text>
<text class="b" transform="translate(180.3 396.5) rotate(-90)" textLength="25" lengthAdjust="spacingAndGlyphs" fill="#000">03:35</text>
<text class="b" transform="translate(196.3 396.5) rotate(-90)" textLength="25" lengthAdjust="spacingAndGlyphs" fill="#000">04:05</text>
<text class="b" transform="translate(211.3 396.5) rotate(-90)" textLength="25" lengthAdjust="spacingAndGlyphs" fill="#000">04:35</text>
<text class="b" transform="translate(227.3 396.5) rotate(-90)" textLength="25" lengthAdjust="spacingAndGlyphs" fill="#000">05:05</text>
<text class="b" transform="translate(242.3 396.5) rotate(-90)" textLength="25" lengthAdjust="spacingAndGlyphs" fill="#000">05:35</text>
<text class="b" transform="translate(258.3 396.5) rotate(-90)" textLength="25" lengthAdjust="spacingAndGlyphs" fill="#000">06:05</text>
<text class="b" transform="translate(273.3 396.5) rotate(-90)" textLength="25" lengthAdjust="spacingAndGlyphs" fill="#000">06:35</text>
<text class="b" transform="translate(288.3 396.5) rotate(-90)" textLength="25" lengthAdjust="spacingAndGlyphs" fill="#000">07:05</text>
<text class="b" transform="translate(304.3 396.5) rotate(-90)" textLength="25" lengthAdjust="spacingAndGlyphs" fill="#000">07:35</text>
<text class="b" transform="translate(319.3 396.5) rotate(-90)" textLength="25" lengthAdjust="spacingAndGlyphs" fill="#000">08:05</text>
<text class="b" transform="translate(335.3 396.5) rotate(-90)" textLength="25" lengthAdjust="spacingAndGlyphs" fill="#000">08:35</text>
<text class="b" transform="translate(350.3 396.5) rotate(-90)" textLength="25" lengthAdjust="spacingAndGlyphs" fill="#000">09:05</text>
<text class="b" transform="translate(365.3 396.5) rotate(-90)" textLength="25" lengthAdjust="spacingAndGlyphs" fill="#000">09:35</text>
<text class="b" transform="translate(381.3 396.5) rotate(-90)" textLength="25" lengthAdjust="spacingAndGlyphs" fill="#000">10:05</text>
<text class="b" transform="translate(396.3 396.5) rotate(-90)" textLength="25" lengthAdjust="spacingAndGlyphs" fill="#000">10:35</text>
<text class="b" transform="translate(412.3 396.5) rotate(-90)" textLength="25" lengthAdjust="spacingAndGlyphs" fill="#000">11:05</text>
<text class="b" transform="translate(427.3 396.5) rotate(-90)" textLength="25" lengthAdjust="spacingAndGlyphs" fill="#000">11:35</text>
<text class="b" transform="translate(443.3 396.5) rotate(-90)" textLength="25" lengthAdjust="spacingAndGlyphs" fill="#000">12:05</text>
<text class="b" transform="translate(458.3 396.5) rotate(-90)" textLength="25" lengthAdjust="spacingAndGlyphs" fill="#000">12:35</text>
<text class="b" transform="translate(473.3 396.5) rotate(-90)" textLength="25" lengthAdjust="spacingAndGlyphs" fill="#000">13:05</text>
<text class="b" transform="translate(489.3 396.5) rotate(-90)" textLength="25" lengthAdjust="spacingAndGlyphs" fill="#000">13:35</text>
<text class="b" transform="translate(504.3 396.5) rotate(-90)" textLength="25" lengthAdjust="spacingAndGlyphs" fill="#000">14:05</text>
<text class="b" transform="translate(520.3 396.5) rotate(-90)" textLength="25" lengthAdjust="spacingAndGlyphs" fill="#000">14:35</text>
<text class="b" transform="translate(535.3 396.5) rotate(-90)" textLength="25" lengthAdjust="spacingAndGlyphs" fill="#000">15:05</text>
<text class="b" transform="translate(551.3 396.5) rotate(-90)" textLength="25" lengthAdjust="spacingAndGlyphs" fill="#000">15:35</text>
<text class="b" transform="translate(566.3 396.5) rotate(-90)" textLength="25" lengthAdjust="spacingAndGlyphs" fill="#000">16:05</text>
<text class="b" transform="translate(581.3 396.5) rotate(-90)" textLength="25" lengthAdjust="spacingAndGlyphs" fill="#000">16:35</text>
<text class="b" transform="translate(597.3 396.5) rotate(-90)" textLength="25" lengthAdjust="spacingAndGlyphs" fill="#000">17:05</text>
<text class="b" transform="translate(612.3 396.5) rotate(-90)" textLength="25" lengthAdjust="spacingAndGlyphs" fill="#000">17:35</text>
<text class="b" transform="translate(628.3 396.5) rotate(-90)" textLength="25" lengthAdjust="spacingAndGlyphs" fill="#000">18:05</text>
<text class="b" transform="translate(643.3 396.5) rotate(-90)" textLength="25" lengthAdjust="spacingAndGlyphs" fill="#000">18:35</text>
<text class="b" transform="translate(658.3 396.5) rotate(-90)" textLength="25" lengthAdjust="spacingAndGlyphs" fill="#000">19:05</text>
<text class="b" transform="translate(674.3 396.5) rotate(-90)" textLength="25" lengthAdjust="spacingAndGlyphs" fill="#000">19:35</text>
<text class="b" transform="translate(689.3 396.5) rotate(-90)" textLength="25" lengthAdjust="spacingAndGlyphs" fill="#000">20:05</text>
<text class="b" transform="translate(705.3 396.5) rotate(-90)" textLength="25" lengthAdjust="spacingAndGlyphs" fill="#000">20:35</text>
<text class="b" transform="translate(720.3 396.5) rotate(-90)" textLength="25" lengthAdjust="spacingAndGlyphs" fill="#000">21:05</text>
<text class="b" transform="translate(736.3 396.5) rotate(-90)" textLength="25" lengthAdjust="spacingAndGlyphs" fill="#000">21:35</text>
<text class="b" transform="translate(751.3 396.5) rotate(-90)" textLength="25" lengthAdjust="spacingAndGlyphs" fill="#000">22:05</text>
<text class="b" transform="translate(766.3 396.5) rotate(-90)" textLength="25" lengthAdjust="spacingAndGlyphs" fill="#000">22:35</text>
<text class="b" transform="translate(782.3 396.5) rotate(-90)" textLength="25" lengthAdjust="spacingAndGlyphs" fill="#000">23:05</text>
<text class="b" transform="translate(797.3 396.5) rotate(-90)" textLength="25" lengthAdjust="spacingAndGlyphs" fill="#000">23:35</text>
<path d="M68.6 383.3h1.7v2.6h-1.7zM71.3 383.3h1.7v2.6h-1.7zM83.6 383.3h1.7v2.6h-1.7zM86.3 383.3h1.7v2.6h-1.7zM98.6 383.3h1.7v2.6h-1.7zM101.3 383.3h1.7v2.6h-1.7zM114.6 383.3h1.7v2.6h-1.7zM117.3 383.3h1.7v2.6h-1.7zM129.6 383.3h1.7v2.6h-1.7zM132.3 383.3h1.7v2.6h-1.7zM145.6 383.3h1.7v2.6h-1.7zM148.3 383.3h1.7v2.6h-1.7zM160.6 383.3h1.7v2.6h-1.7zM163.3 383.3h1.7v2.6h-1.7zM175.6 383.3h1.7v2.6h-1.7zM178.3 383.3h1.7v2.6h-1.7zM191.6 383.3h1.7v2.6h-1.7zM194.3 383.3h1.7v2.6h-1.7zM206.6 383.3h1.7v2.6h-1.7zM209.3 383.3h1.7v2.6h-1.7zM222.6 383.3h1.7v2.6h-1.7zM225.3 383.3h1.7v2.6h-1.7zM237.6 383.3h1.7v2.6h-1.7zM240.3 383.3h1.7v2.6h-1.7zM253.6 383.3h1.7v2.6h-1.7zM256.3 383.3h1.7v2.6h-1.7zM268.6 383.3h1.7v2.6h-1.7zM271.3 383.3h1.7v2.6h-1.7zM283.6 383.3h1.7v2.6h-1.7zM286.3 383.3h1.7v2.6h-1.7zM299.6 383.3h1.7v2.6h-1.7zM302.3 383.3h1.7v2.6h-1.7zM314.6 383.3h1.7v2.6h-1.7zM317.3 383.3h1.7v2.6h-1.7zM330.6 383.3h1.7v2.6h-1.7zM333.3 383.3h1.7v2.6h-1.7zM345.6 383.3h1.7v2.6h-1.7zM348.3 383.3h1.7v2.6h-1.7zM360.6 383.3h1.7v2.6h-1.7zM363.3 383.3h1.7v2.6h-1.7zM376.6 383.3h1.7v2.6h-1.7zM379.3 383.3h1.7v2.6h-1.7zM391.6 383.3h1.7v2.6h-1.7zM394.3 383.3h1.7v2.6h-1.7zM407.6 383.3h1.7v2.6h-1.7zM410.3 383.3h1.7v2.6h-1.7zM422.6 383.3h1.7v2.6h-1.7zM425.3 383.3h1.7v2.6h-1.7zM438.6 383.3h1.7v2.6h-1.7zM441.3 383.3h1.7v2.6h-1.7zM453.6 383.3h1.7v2.6h-1.7zM456.3 383.3h1.7v2.6h-1.7zM468.6 383.3h1.7v2.6h-1.7zM471.3 383.3h1.7v2.6h-1.7zM484.6 383.3h1.7v2.6h-1.7zM487.3 383.3h1.7v2.6h-1.7zM499.6 383.3h1.7v2.6h-1.7zM502.3 383.3h1.7v2.6h-1.7zM515.6 383.3h1.7v2.6h-1.7zM518.3 383.3h1.7v2.6h-1.7zM530.6 383.3h1.7v2.6h-1.7zM533.3 383.3h1.7v2.6h-1.7zM546.6 383.3h1.7v2.6h-1.7zM549.3 383.3h1.7v2.6h-1.7zM561.6 383.3h1.7v2.6h-1.7zM564.3 383.3h1.7v2.6h-1.7zM576.6 383.3h1.7v2.6h-1.7zM579.3 383.3h1.7v2.6h-1.7zM592.6 383.3h1.7v2.6h-1.7zM595.3 383.3h1.7v2.6h-1.7zM607.6 383.3h1.7v2.6h-1.7zM610.3 383.3h1.7v2.6h-1.7zM623.6 383.3h1.7v2.6h-1.7zM626.3 383.3h1.7v2.6h-1.7zM638.6 383.3h1.7v2.6h-1.7zM641.3 383.3h1.7v2.6h-1.7zM653.6 383.3h1.7v2.6h-1.7zM656.3 383.3h1.7v2.6h-1.7zM669.6 383.3h1.7v2.6h-1.7zM672.3 383.3h1.7v2.6h-1.7zM684.6 383.3h1.7v2.6h-1.7zM687.3 383.3h1.7v2.6h-1.7zM700.6 383.3h1.7v2.6h-1.7zM703.3 383.3h1.7v2.6h-1.7zM715.6 383.3h1.7v2.6h-1.7zM718.3 383.3h1.7v2.6h-1.7zM731.6 383.3h1.7v2.6h-1.7zM734.3 383.3h1.7v2.6h-1.7zM746.6 383.3h1.7v2.6h-1.7zM749.3 383.3h1.7v2.6h-1.7zM761.6 383.3h1.7v2.6h-1.7zM764.3 383.3h1.7v2.6h-1.7zM777.6 383.3h1.7v2.6h-1.7zM780.3 383.3h1.7v2.6h-1.7zM792.6 383.3h1.7v2.6h-1.7zM795.3 383.3h1.7v2.6h-1.7z" fill="#000"/>
<text x="815" y="377" fill="#000" stroke="#000" text-anchor="start" textLength="14" lengthAdjust="spacingAndGlyphs" font-style="italic">čas</text>
<rect class="c" x="10" y="9" width="11" height="2" fill="#ff0000"/>
<text x="25.2" y="12.0" fill="#000" stroke="#000" text-anchor="start" textLength="34" lengthAdjust="spacingAndGlyphs">Teplota</text>
<rect class="c" x="70" y="9" width="11" height="2" fill="#ff00ff"/>
<text x="85.2" y="12.0" fill="#000" stroke="#000" text-anchor="start" textLength="79" lengthAdjust="spacingAndGlyphs">Přízemní teplota</text>
<rect class="c" x="175" y="9" width="11" height="2" fill="#9400d3"/>
<text x="190.2" y="12.0" fill="#000" stroke="#000" text-anchor="start" textLength="34" lengthAdjust="spacingAndGlyphs">Vlhkost</text>
<rect class="c" x="235" y="9" width="11" height="2" fill="#228b22"/>
<text x="250.2" y="12.0" fill="#000" stroke="#000" text-anchor="start" textLength="19" lengthAdjust="spacingAndGlyphs">Tlak</text>
<rect class="c" x="280" y="9" width="11" height="2" fill="#00bfff"/>
<text x="295.2" y="12.0" fill="#000" stroke="#000" text-anchor="start" textLength="29" lengthAdjust="spacingAndGlyphs">Srážky</text>
<rect class="c" x="335" y="9" width="11" height="2" fill="#000"/>
<text x="350.2" y="12.0" fill="#000" stroke="#000" text-anchor="start" textLength="69" lengthAdjust="spacingAndGlyphs">Rychlost větru</text>
<rect class="c" x="430" y="9" width="11" height="2" fill="#0000cd"/>
<text x="445.2" y="12.0" fill="#000" stroke="#000" text-anchor="start" textLength="54" lengthAdjust="spacingAndGlyphs">Náraz větru</text>
<rect class="c" x="510" y="9" width="11" height="2" fill="#696969"/>
<text x="525.2" y="12.0" fill="#000" stroke="#000" text-anchor="start" textLength="49" lengthAdjust="spacingAndGlyphs">Směr větru</text>
<rect class="c" x="585" y="9" width="11" height="2" fill="#ffff00"/>
<text x="600.2" y="12.0" fill="#ffff00" stroke="#ffff00" text-anchor="start" textLength="39" lengthAdjust="spacingAndGlyphs">UV index</text>
<rect class="c" x="650" y="9" width="11" height="2" fill="#ff7f00"/>
<text x="665.2" y="12.0" fill="#ff7f00" stroke="#ff7f00" text-anchor="start" textLength="24" lengthAdjust="spacingAndGlyphs">Solar</text>
<text x="80" y="27" fill="#000" stroke="#000" text-anchor="start" textLength="14" lengthAdjust="spacingAndGlyphs">max</text>
<text x="100" y="27" fill="#ff0000" stroke="#ff0000" text-anchor="start" textLength="29" lengthAdjust="spacingAndGlyphs">26.8°C</text>
<text x="135" y="27" fill="#ff0000" stroke="#ff0000" text-anchor="start" textLength="19" lengthAdjust="spacingAndGlyphs">100%</text>
<text x="165" y="27" fill="#ff0000" stroke="#ff0000" text-anchor="start" textLength="44" lengthAdjust="spacingAndGlyphs">1022.4hPa</text>
<text x="225" y="27" fill="#00bfff" stroke="#00bfff" text-anchor="start" textLength="24" lengthAdjust="spacingAndGlyphs">0.0mm</text>
<text x="80" y="37" fill="#000" stroke="#000" text-anchor="start" textLength="14" lengthAdjust="spacingAndGlyphs">min</text>
<text x="100" y="37" fill="#0000cd" stroke="#0000cd" text-anchor="start" textLength="29" lengthAdjust="spacingAndGlyphs">14.0°C</text>
<text x="140" y="37" fill="#0000cd" stroke="#0000cd" text-anchor="start" textLength="14" lengthAdjust="spacingAndGlyphs">52%</text>
<text x="165" y="37" fill="#0000cd" stroke="#0000cd" text-anchor="start" textLength="44" lengthAdjust="spacingAndGlyphs">1018.5hPa</text>
<text x="80" y="47" fill="#000" stroke="#000" text-anchor="start" textLength="14" lengthAdjust="spacingAndGlyphs">avg</text>
<text x="110" y="47" fill="#000" stroke="#000" text-anchor="start" textLength="19" lengthAdjust="spacingAndGlyphs">20°C</text>
<text x="499" y="27" fill="#000" stroke="#000" text-anchor="start" textLength="44" lengthAdjust="spacingAndGlyphs">WS:2.2m/s</text>
<text x="569" y="27" fill="#000" stroke="#000" text-anchor="start" textLength="44" lengthAdjust="spacingAndGlyphs">WG:6.3m/s</text>
<text x="499" y="37" fill="#000" stroke="#000" text-anchor="start" textLength="59" lengthAdjust="spacingAndGlyphs">Východ:04:49</text>
<text x="569" y="37" fill="#000" stroke="#000" text-anchor="start" textLength="54" lengthAdjust="spacingAndGlyphs">Západ:21:02</text>
<text class="t" x="414.7" y="50.8" stroke="#000" stroke-width="0.45" textLength="69.5" lengthAdjust="spacingAndGlyphs">21.06.2016</text>
<path class="c" d="M0.5 0.5H899.5V399.5H0.5Z" stroke="#000" stroke-width="1" fill="none"/>
</svg></body></html>
